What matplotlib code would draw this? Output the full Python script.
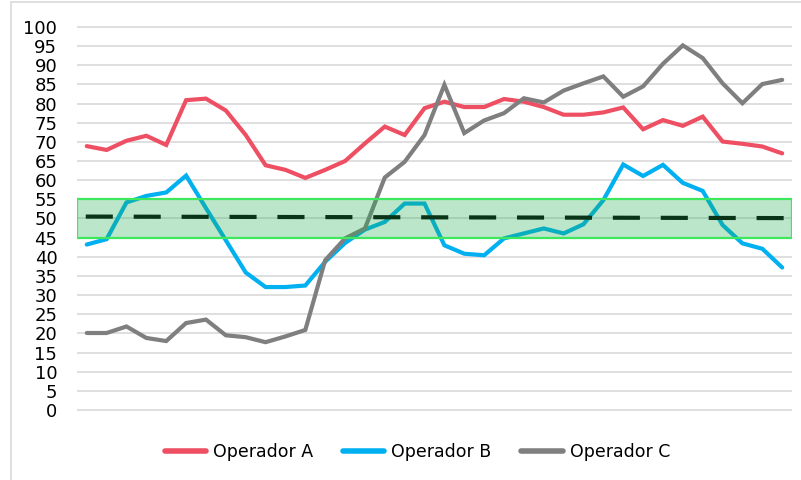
import matplotlib
matplotlib.use("Agg")
import matplotlib.pyplot as plt
from matplotlib.patches import Rectangle

# values (36 samples per operator)
operador_a = [68.9, 67.9, 70.3, 71.6, 69.2, 80.9, 81.3, 78.2, 71.8, 63.9,
              62.7, 60.6, 62.7, 65.0, 69.6, 74.0, 71.8, 78.8, 80.5, 79.1,
              79.1, 81.2, 80.5, 79.1, 77.1, 77.1, 77.7, 79.0, 73.3, 75.7,
              74.2, 76.6, 70.1, 69.5, 68.8, 67.0]
operador_b = [43.2, 44.6, 54.2, 55.9, 56.8, 61.2, 52.7, 44.3, 35.9, 32.1,
              32.1, 32.5, 38.7, 43.6, 47.1, 49.1, 53.9, 53.9, 43.0, 40.8,
              40.4, 44.8, 46.1, 47.4, 46.1, 48.5, 54.8, 64.1, 61.1, 64.0,
              59.3, 57.2, 48.3, 43.5, 42.1, 37.2]
operador_c = [20.1, 20.1, 21.8, 18.8, 18.0, 22.7, 23.6, 19.5, 19.0, 17.7,
              19.2, 20.9, 39.1, 44.8, 47.4, 60.7, 64.8, 71.8, 84.9, 72.3,
              75.6, 77.5, 81.4, 80.3, 83.4, 85.3, 87.1, 81.8, 84.5, 90.4,
              95.2, 91.9, 85.3, 80.1, 85.1, 86.2]
# reference band and target line
banda = [45, 55]
objetivo = [50.5, 50.1]

names = ["Operador A", "Operador B", "Operador C"]
colors = ["#ee4f63", "#00b0f0", "#7f7f7f"]
yticks = list(range(0, 101, 5))

fig = plt.figure(figsize=(8.01, 4.8), dpi=100)

# outer chart border (light gray), cut at right/bottom like the reference
fig.patches.append(Rectangle((11 / 801, -0.1), 1.2, 1.1 - 2 / 480,
                             transform=fig.transFigure, fill=False,
                             edgecolor="#d9d9d9", linewidth=1.2))

ax = fig.add_axes([0.0959, 0.1419, 0.893, 0.8058])
x = list(range(len(operador_a)))
for data, name, c in zip([operador_a, operador_b, operador_c], names, colors):
    ax.plot(x, data, color=c, lw=3.0, label=name, solid_joinstyle="miter",
            solid_capstyle="round", zorder=3)

ax.set_xlim(-0.5, len(x) - 0.5)
ax.set_ylim(-0.5, 100.5)

ax.axhspan(banda[0], banda[1], facecolor="#1fae4f", alpha=0.3, zorder=4)
ax.axhspan(banda[0], banda[1], facecolor="none", edgecolor="#3ee85c",
           lw=1.6, zorder=5)
ax.plot([-0.05, len(x) - 0.45], objetivo, color="#000000", lw=3.0,
        dashes=(6.5, 5), zorder=3.5, clip_on=False)

ax.set_yticks(yticks)
ax.set_yticklabels([str(v) for v in yticks], fontsize=13,
                   fontfamily="DejaVu Sans")
ax.tick_params(axis="y", length=0, pad=14)
ax.set_xticks([])
ax.yaxis.grid(True, color="#d9d9d9", lw=1.2)
ax.set_axisbelow(True)
for s in ax.spines.values():
    s.set_visible(False)

leg = fig.legend(loc="center", bbox_to_anchor=(0.521, 0.058), ncol=3,
                 frameon=False, fontsize=12.5, handlelength=2.4,
                 handletextpad=0.4, columnspacing=1.7)
for line in leg.get_lines():
    line.set_linewidth(4)

fig.savefig("out.png", dpi=100)
